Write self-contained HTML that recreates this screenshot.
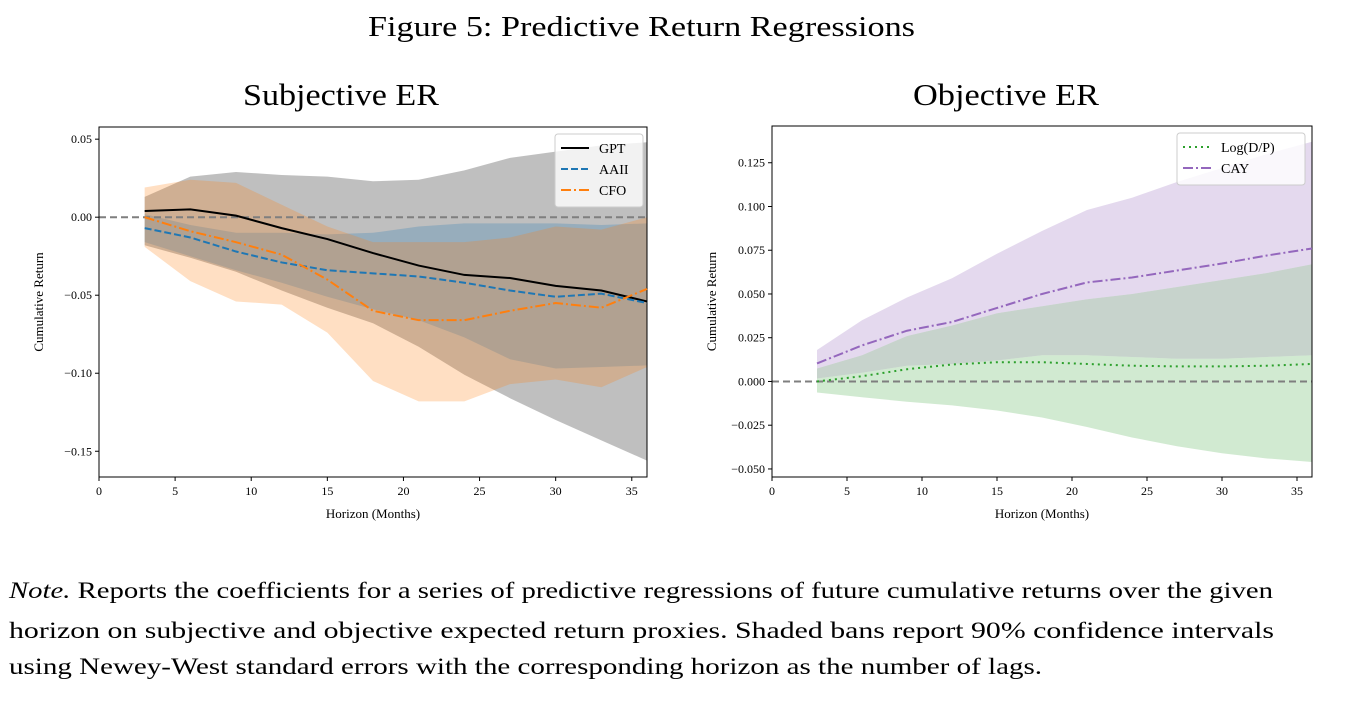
<!DOCTYPE html>
<html><head><meta charset="utf-8"><style>
body{margin:0;background:#fff;width:1354px;height:712px;overflow:hidden}
svg text{font-family:"Liberation Serif",serif}
</style></head><body>
<svg id="fig" width="1354" height="712">
<text x="368" y="36" font-size="29" textLength="547" lengthAdjust="spacingAndGlyphs">Figure 5: Predictive Return Regressions</text>
<text x="243" y="105" font-size="31" textLength="196" lengthAdjust="spacingAndGlyphs">Subjective ER</text>
<text x="913" y="105" font-size="31" textLength="186" lengthAdjust="spacingAndGlyphs">Objective ER</text>
<g id="L"></g>
<g id="R"></g>
<g font-size="23">
<text x="9" y="598" textLength="1264" lengthAdjust="spacingAndGlyphs"><tspan font-style="italic">Note.</tspan> Reports the coefficients for a series of predictive regressions of future cumulative returns over the given</text>
<text x="9" y="638" textLength="1265" lengthAdjust="spacingAndGlyphs">horizon on subjective and objective expected return proxies.  Shaded bans report 90% confidence intervals</text>
<text x="9" y="674" textLength="1033" lengthAdjust="spacingAndGlyphs">using Newey-West standard errors with the corresponding horizon as the number of lags.</text>
</g>
</svg>
<script>
const horizons=[3,6,9,12,15,18,21,24,27,30,33,36];
const gpt=[0.004,0.005,0.001,-0.007,-0.014,-0.023,-0.031,-0.037,-0.039,-0.044,-0.047,-0.054];
const gptHi=[0.013,0.026,0.029,0.027,0.026,0.023,0.024,0.030,0.038,0.042,0.046,0.048];
const gptLo=[-0.018,-0.026,-0.035,-0.047,-0.058,-0.068,-0.083,-0.101,-0.116,-0.130,-0.143,-0.156];
const aaii=[-0.007,-0.013,-0.022,-0.029,-0.034,-0.036,-0.038,-0.042,-0.047,-0.051,-0.049,-0.055];
const aaiiHi=[0.002,-0.005,-0.010,-0.010,-0.011,-0.010,-0.006,-0.004,-0.004,-0.004,-0.005,-0.004];
const aaiiLo=[-0.016,-0.025,-0.034,-0.042,-0.051,-0.059,-0.066,-0.077,-0.091,-0.097,-0.096,-0.095];
const cfo=[0.000,-0.009,-0.016,-0.024,-0.040,-0.060,-0.066,-0.066,-0.060,-0.055,-0.058,-0.046];
const cfoHi=[0.019,0.024,0.022,0.008,-0.006,-0.016,-0.016,-0.016,-0.013,-0.006,-0.008,0.000];
const cfoLo=[-0.019,-0.041,-0.054,-0.056,-0.074,-0.105,-0.118,-0.118,-0.107,-0.104,-0.109,-0.096];
const dp=[0.000,0.003,0.007,0.0097,0.011,0.011,0.010,0.009,0.0086,0.0086,0.009,0.010];
const dpHi=[0.0017,0.005,0.009,0.010,0.012,0.015,0.015,0.014,0.013,0.013,0.014,0.015];
const dpLo=[-0.0063,-0.009,-0.0116,-0.0137,-0.0166,-0.0206,-0.026,-0.032,-0.037,-0.041,-0.044,-0.046];
const cay=[0.0103,0.0206,0.029,0.034,0.042,0.050,0.0566,0.0594,0.0634,0.0674,0.072,0.076];
const cayHi=[0.018,0.035,0.048,0.059,0.073,0.086,0.098,0.105,0.114,0.122,0.130,0.137];
const cayLo=[0.0074,0.015,0.026,0.032,0.039,0.043,0.047,0.050,0.054,0.058,0.062,0.067];
const xTicks=[0,5,10,15,20,25,30,35];
const yTicksL=[0.05,0.00,-0.05,-0.10,-0.15];
const yTicksR=[0.125,0.100,0.075,0.050,0.025,0.000,-0.025,-0.050];

const NS='http://www.w3.org/2000/svg';
function mk(p,t,a){const e=document.createElementNS(NS,t);for(const k in a)e.setAttribute(k,a[k]);p.appendChild(e);return e;}
function chart(g,L,R,T,B,ymin,ymax,yTicks,dec){
  const sx=v=>L+(v-0)/(36-0)*(R-L);
  const sy=v=>B-(v-ymin)/(ymax-ymin)*(B-T);
  return {sx,sy,L,R,T,B,yTicks,dec};
}
function band(g,c,hi,lo,color,op,name){
  let d='M'+horizons.map((h,i)=>c.sx(h)+','+c.sy(hi[i])).join('L');
  d+='L'+horizons.map((h,i)=>c.sx(h)+','+c.sy(lo[i])).reverse().join('L')+'Z';
  const p=mk(g,'path',{d,fill:color,'fill-opacity':op});
  
  
}
function line(g,c,vals,color,dash,name){
  const p=mk(g,'polyline',{points:horizons.map((h,i)=>c.sx(h)+','+c.sy(vals[i])).join(' '),fill:'none',stroke:color,'stroke-width':2,'stroke-dasharray':dash});
  
  
}
function axes(g,c,ylab){
  const z=mk(g,'line',{x1:c.L,x2:c.R,y1:c.sy(0),y2:c.sy(0),stroke:'#7f7f7f','stroke-width':2,'stroke-dasharray':'7,4'});
  
  
  const fr=mk(g,'rect',{x:c.L,y:c.T,width:c.R-c.L,height:c.B-c.T,fill:'none',stroke:'#000','stroke-width':1});
  
  
  xTicks.forEach(t=>{const x=c.sx(t);mk(g,'line',{x1:x,x2:x,y1:c.B,y2:c.B+4,stroke:'#000'});
    const tx=mk(g,'text',{x:x,y:c.B+18,'font-size':12,'text-anchor':'middle'});tx.textContent=t;
    
    });
  c.yTicks.forEach(t=>{const y=c.sy(t);mk(g,'line',{x1:c.L-4,x2:c.L,y1:y,y2:y,stroke:'#000'});
    const tx=mk(g,'text',{x:c.L-7,y:y+4,'font-size':12,'text-anchor':'end'});tx.textContent=(t<0?'\u2212':'')+Math.abs(t).toFixed(c.dec);
    
    });
  const xl=mk(g,'text',{x:(c.L+c.R)/2,y:c.B+41,'font-size':13,'text-anchor':'middle'});xl.textContent='Horizon (Months)';
  
  
  const yx=c.L-56,yy=(c.T+c.B)/2;
  const yl=mk(g,'text',{x:yx,y:yy,'font-size':13,'text-anchor':'middle',transform:`rotate(-90 ${yx} ${yy})`});yl.textContent=ylab;
  
  
}
function legend(g,x,y,w,items){
  const r=mk(g,'rect',{x,y,width:w,height:items.length*21+10,fill:'#fff','fill-opacity':0.8,stroke:'#ccc',rx:3});
  
  
  items.forEach((it,i)=>{const yy=y+14+i*21;
    mk(g,'line',{x1:x+6,x2:x+34,y1:yy,y2:yy,stroke:it[1],'stroke-width':2,'stroke-dasharray':it[2]});
    const t=mk(g,'text',{x:x+44,y:yy+5,'font-size':14});t.textContent=it[0];
    
    });
}
const gl=document.getElementById('L');
const cl=chart(gl,99,647,127,477,-0.1665,0.0578,yTicksL,2);
band(gl,cl,gptHi,gptLo,'#000',0.25,'gpt-band');
band(gl,cl,aaiiHi,aaiiLo,'#1f77b4',0.25,'aaii-band');
band(gl,cl,cfoHi,cfoLo,'#ff7f0e',0.25,'cfo-band');
axes(gl,cl,'Cumulative Return');
line(gl,cl,gpt,'#000','','gpt-line');
line(gl,cl,aaii,'#1f77b4','7,3','aaii-line');
line(gl,cl,cfo,'#ff7f0e','10,3,2,3','cfo-line');
legend(gl,555,134,88,[['GPT','#000',''],['AAII','#1f77b4','7,3'],['CFO','#ff7f0e','10,3,2,3']]);
const gr=document.getElementById('R');
const cr=chart(gr,772,1312,126,477,-0.0546,0.1460,yTicksR,3);
band(gr,cr,cayHi,cayLo,'#9467bd',0.25,'cay-band');
band(gr,cr,dpHi,dpLo,'#2ca02c',0.22,'dp-band');
band(gr,cr,cayLo,dpHi,'#8fa89a',0.5,'overlap-band');
axes(gr,cr,'Cumulative Return');
line(gr,cr,dp,'#2ca02c','2,4','dp-line');
line(gr,cr,cay,'#9467bd','10,3,2,3','cay-line');
legend(gr,1177,133,128,[['Log(D/P)','#2ca02c','2,4'],['CAY','#9467bd','10,3,2,3']]);
</script>
</body></html>
